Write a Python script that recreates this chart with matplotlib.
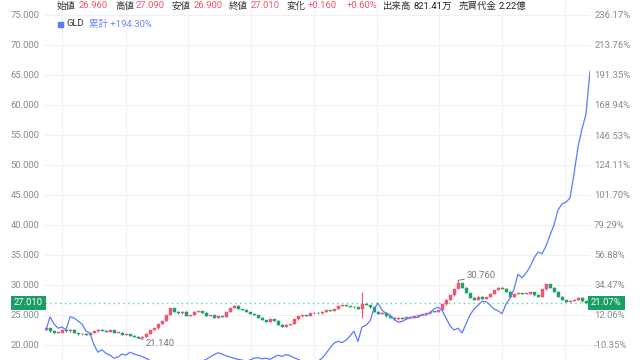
import numpy as np
import matplotlib
matplotlib.use("Agg")
import matplotlib.pyplot as plt

plt.rcParams['font.family'] = ['Roboto', 'Noto Sans CJK JP', 'DejaVu Sans']

# closing prices (one candle every ~4px)
closes = [22.8, 22.3, 22.0, 22.1, 22.5, 22.3, 22.6, 22.0, 21.8, 21.9,
          21.7, 22.0, 22.3, 22.6, 22.4, 22.2, 22.5, 22.0, 22.1, 21.7,
          21.8, 21.6, 21.4, 21.2, 21.4, 21.9, 22.5, 22.8, 23.5, 24.0,
          25.0, 26.2, 25.6, 25.3, 25.6, 24.9, 25.0, 25.6, 25.7, 25.4,
          24.9, 25.0, 24.5, 24.8, 24.7, 25.5, 26.2, 26.6, 26.0, 25.9,
          25.5, 25.2, 25.0, 24.6, 24.2, 23.9, 24.3, 24.1, 23.4, 23.1,
          23.4, 23.5, 24.3, 24.8, 25.0, 24.9, 25.3, 25.4, 25.3, 25.6,
          25.8, 25.7, 26.0, 26.5, 26.6, 26.5, 26.4, 26.3, 26.0, 26.9,
          26.7, 26.3, 25.6, 25.2, 25.4, 24.8, 24.6, 24.3, 24.6, 24.4,
          24.7, 24.6, 24.8, 25.0, 25.2, 25.3, 25.6, 25.5, 25.8, 26.8,
          27.6, 28.3, 29.3, 30.3, 29.6, 28.7, 27.9, 27.6, 28.1, 27.7,
          28.0, 28.6, 29.2, 29.6, 29.4, 28.9, 28.0, 28.5, 28.7, 28.5,
          28.6, 28.8, 28.3, 28.0, 29.3, 30.2, 29.6, 28.9, 28.1, 27.5,
          27.2, 27.4, 27.6, 27.9, 27.3, 27.01]
first_open = 22.6
# candles whose wick reaches past the body: index -> (high, low)
wicks = {23: (21.5, 21.14), 79: (28.8, 24.5), 103: (30.76, 29.8)}

# GLD cumulative return in percent
gld_pct = [0.85, 10.71, 5.33, 2.20, 3.09, 0.85, 10.71, 9.82, 7.57, 5.33,
           -0.04, -1.39, -10.35, -15.73, -13.94, -16.63, -17.97, -20.21, -19.32, -17.08,
           -17.97, -15.73, -17.08, -17.97, -18.87, -20.21, -22.01, -22.90, -23.80, -24.70,
           -25.59, -26.04, -25.15, -24.25, -23.80, -23.35, -22.90, -23.80, -23.35, -22.46,
           -21.11, -19.32, -17.53, -16.18, -17.08, -18.42, -19.32, -20.21, -21.11, -21.56,
           -22.46, -21.56, -20.21, -19.77, -20.66, -20.21, -21.11, -19.32, -17.97, -18.87,
           -17.53, -18.42, -19.77, -21.11, -22.46, -23.80, -24.70, -23.80, -22.46, -20.21,
           -16.63, -12.60, -9.01, -7.66, -8.56, -6.77, -3.63, -0.04, -7.66, 3.09,
           4.44, 7.57, 16.54, 21.02, 15.64, 13.40, 12.06, 8.92, 6.68, 7.13,
           8.92, 9.82, 10.71, 10.26, 12.06, 12.06, 13.85, 16.54, 17.88, 15.64,
           9.82, 3.99, 0.85, 2.20, -1.39, 5.33, 12.06, 16.54, 19.23, 22.37,
           21.92, 19.68, 16.54, 15.20, 12.95, 20.13, 24.61, 31.33, 42.54, 39.85,
           43.43, 47.92, 54.64, 59.12, 57.77, 63.60, 71.67, 79.29, 90.50, 94.98,
           96.33, 99.46, 117.39, 137.56, 151.01, 162.21, 194.30]

base = 22.31  # price that maps to 0% on the right axis
price_ticks = [20, 25, 30, 35, 40, 45, 50, 55, 60, 65, 70, 75]
vgrid = [4, 20, 35.5, 51.25, 67, 82.75, 98.25, 114, 129.75]

up_col = '#f0566e'
down_col = '#1fa06c'
blue = '#5b7bff'
grey = '#8a8a8a'

fig = plt.figure(figsize=(6.4, 3.6), dpi=100)
ax = fig.add_axes([45 / 640, 0, 545 / 640, 1])
ax.set_xlim(-0.25, 136)
ax.set_ylim(17.5, 77.5)
for s in ax.spines.values():
    s.set_visible(False)
ax.set_yticks(price_ticks)
ax.set_yticklabels(['%.3f' % t for t in price_ticks])
ax.set_xticks(vgrid)
ax.set_xticklabels([])
ax.tick_params(length=0, labelsize=6.8, labelcolor=grey, pad=4)
ax.grid(True, color='#f1f1f1', lw=0.8)
ax.set_axisbelow(True)

c = np.array(closes)
o = np.concatenate([[first_open], c[:-1]])
idx = np.arange(len(c))
hi = np.maximum(o, c)
lo = np.minimum(o, c)
for k, (h, l) in wicks.items():
    hi[k] = h
    lo[k] = l
cols = [up_col if cc >= oo else down_col for oo, cc in zip(o, c)]
ax.vlines(idx, lo - 0.05, hi + 0.05, colors=cols, lw=0.8, zorder=3)
ax.bar(idx, np.maximum(np.abs(c - o), 0.12), bottom=np.minimum(o, c) - 0.03, width=0.75,
       color=cols, edgecolor=cols, linewidth=0.3, zorder=4)

# last price line
last = closes[-1]
ax.axhline(last, color='#5fd1a0', lw=1, ls=(0, (1, 2.5)), zorder=2)

# min / max annotations
ax.annotate('21.140', xy=(23, 21.14), xytext=(8, -5), textcoords='offset pixels',
            fontsize=6.8, color='#777777', va='center',
            arrowprops=dict(arrowstyle='-', color='#777777', lw=0.7, shrinkA=0, shrinkB=0))
ax.annotate('30.760', xy=(103, 30.76), xytext=(9, 5), textcoords='offset pixels',
            fontsize=6.8, color='#777777', va='center',
            arrowprops=dict(arrowstyle='-', color='#777777', lw=0.7, shrinkA=0, shrinkB=0))

# right axis in percent
ax2 = ax.twinx()
ax2.set_ylim((17.5 / base - 1) * 100, (77.5 / base - 1) * 100)
pct_ticks = [(t / base - 1) * 100 for t in price_ticks]
ax2.set_yticks(pct_ticks)
ax2.set_yticklabels(['%.2f%%' % p for p in pct_ticks])
ax2.tick_params(length=0, labelsize=6.8, labelcolor=grey, pad=3)
for s in ax2.spines.values():
    s.set_visible(False)
ax2.plot(np.arange(len(gld_pct)), gld_pct, color=blue, lw=0.9, zorder=5)

# current price boxes
ax.text(-0.004, last, '%.3f' % last, transform=ax.get_yaxis_transform(), ha='right', va='center',
        fontsize=6.8, color='white',
        bbox=dict(boxstyle='square,pad=0.3', fc='#1a9d68', ec='none'))
ax.text(1.002, last, '%.2f%%' % ((last / base - 1) * 100), transform=ax.get_yaxis_transform(),
        ha='left', va='center', fontsize=6.8, color='white',
        bbox=dict(boxstyle='square,pad=0.3', fc='#1a9d68', ec='none'))

# header row
hy = 1 - 6 / 360
header = [(57, '始値', '#333333'), (79, '26.960', up_col),
          (115, '高値', '#333333'), (136, '27.090', up_col),
          (172, '安値', '#333333'), (194, '26.900', up_col),
          (229, '終値', '#333333'), (251, '27.010', up_col),
          (287, '変化', '#333333'), (308, '+0.160', up_col),
          (347, '+0.60%', up_col),
          (383, '出来高', '#333333'), (414, '821.41万', '#222222'),
          (459, '売買代金', '#333333'), (499, '2.22億', '#222222')]
for px, s, col in header:
    fig.text(px / 640, hy, s, fontsize=6.8, color=col, va='center', ha='left')

ly = 1 - 24 / 360
fig.patches.append(plt.Rectangle((58 / 640, 1 - 26.5 / 360), 5 / 640, 5 / 360,
                                 transform=fig.transFigure, color=blue))
fig.text(66 / 640, ly, 'GLD', fontsize=6.8, color='#333333', va='center')
fig.text(89 / 640, ly, '累計 +194.30%', fontsize=6.8, color='#6f86ff', va='center')

fig.savefig('out.png', dpi=100)
